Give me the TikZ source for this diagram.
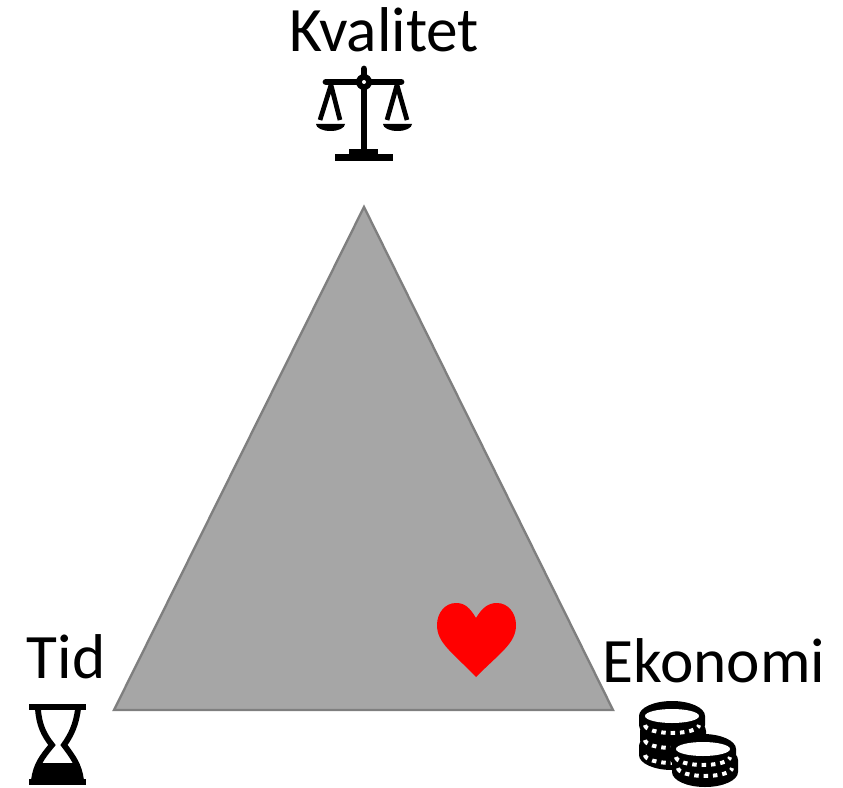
\documentclass[tikz,border=0pt]{standalone}
\usepackage{fontspec}
\setmainfont{Carlito}
\usepackage{xcolor}
\definecolor{triagrey}{HTML}{A6A6A6}
\definecolor{triaedge}{HTML}{7F7F7F}
\definecolor{heartred}{RGB}{255,0,0}
% one layer of a coin stack: centre x, top y, height
\newcommand{\coinlayer}[3]{
    \fill[black] (#1-33,#2) -- (#1-33,#2+#3) arc[start angle=180,end angle=0,x radius=33,y radius=15]
        -- (#1+33,#2) arc[start angle=0,end angle=-180,x radius=33,y radius=15] -- cycle;
}
% row of white marks on a coin edge: centre x, y
\newcommand{\cointicks}[2]{
    \draw[white, line width=3.4pt, dash pattern=on 3.8pt off 4.2pt]
        (#1-27,#2) arc[start angle=180,end angle=0,x radius=27,y radius=8];
}
\begin{document}
\begin{tikzpicture}[x=0.03cm, y=-0.03cm,
    lbl/.style={anchor=base, inner sep=0pt, font=\fontsize{54}{60}\selectfont},
    trianglebody/.style={fill=triagrey, draw=triaedge, line width=2pt, line join=miter},
    icon/.style={fill=black, draw=none}
]
    \useasboundingbox (0,0) rectangle (843,788);

    \node[lbl] (kvalitet) at (384,52) {Kvalitet};
    \node[lbl] (tid) at (66,678) {Tid};
    \node[lbl] (ekonomi) at (714,682) {Ekonomi};

    \draw[trianglebody] (364,207) -- (613,710) -- (114,710) -- cycle;

    % heart
    \fill[heartred] (476,618) .. controls (470,608) and (465,603) .. (456,603)
        .. controls (445,603) and (437,613) .. (437,625)
        .. controls (437,643) and (452,652) .. (476,677)
        .. controls (501,652) and (516,643) .. (516,625)
        .. controls (516,613) and (508,603) .. (497,603)
        .. controls (488,603) and (482,608) .. (476,618) -- cycle;

    % scales
    \draw[line width=5.8pt, line cap=round] (364,69) -- (364,150);
    \draw[line width=5.8pt, line cap=round] (326,82) -- (401,82);
    \fill[icon] (364,82) circle[radius=8];
    \fill[white] (364,82) circle[radius=2];
    \fill[icon] (335,154) rectangle (393,161);
    \fill[icon] (349,149) rectangle (378,155);
    \draw[line width=4pt, line join=round] (320,120) -- (331,85) -- (340,120);
    \draw[line width=4pt, line join=round] (387,120) -- (397,85) -- (407,120);
    \fill[icon] (316,124) -- (345,124) arc[start angle=0,end angle=180,x radius=14.5,y radius=7] -- cycle;
    \fill[icon] (383,124) -- (412,124) arc[start angle=0,end angle=180,x radius=14.5,y radius=7] -- cycle;

    % hourglass
    \fill[icon] (29,704) rectangle (86,710);
    \fill[icon] (29,779) rectangle (86,785);
    \draw[line width=5pt] (38,709) .. controls (39,725) and (44,735) .. (52,745)
        .. controls (42,757) and (36,765) .. (34,780);
    \draw[line width=5pt] (78,709) .. controls (76,725) and (71,735) .. (64,745)
        .. controls (73,757) and (79,765) .. (81,780);
    \fill[icon] (41,763) -- (75,763) -- (83,780) -- (32,780) -- cycle;

    % coins, back stack then front stack
    \coinlayer{672}{746}{9}
    \coinlayer{673}{731}{9}
    \coinlayer{672}{716}{9}
    \cointicks{672}{725}
    \cointicks{672}{740}
    \cointicks{672}{755}
    \fill[white] (672,716) ellipse[x radius=27, y radius=7];
    \coinlayer{705}{760}{12}
    \coinlayer{703}{749}{9}
    \cointicks{703}{757}
    \cointicks{705}{768}
    \fill[white] (703,749) ellipse[x radius=27, y radius=7];
\end{tikzpicture}
\end{document}
